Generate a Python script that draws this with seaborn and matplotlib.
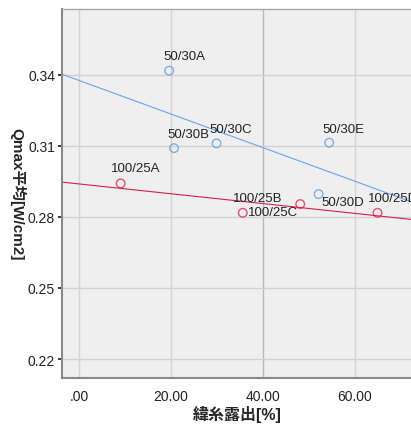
import matplotlib
matplotlib.use("Agg")
import matplotlib.pyplot as plt
import seaborn as sns
import pandas as pd

# values
names_50 = ["50/30A", "50/30B", "50/30C", "50/30D", "50/30E"]
x_50 = [19.6, 20.65, 29.9, 52.1, 54.4]
y_50 = [0.3417, 0.3090, 0.3110, 0.2896, 0.3113]

names_100 = ["100/25A", "100/25B", "100/25C", "100/25D"]
x_100 = [9.06, 35.6, 48.1, 64.9]
y_100 = [0.2941, 0.2817, 0.2854, 0.2817]

x_ticks = [0, 20, 40, 60]
x_ticklabels = [".00", "20.00", "40.00", "60.00"]
y_ticks = [0.22, 0.25, 0.28, 0.31, 0.34]
y_ticklabels = ["0.22", "0.25", "0.28", "0.31", "0.34"]

# label offsets in pixels (dx, dy)
label_offsets = {
    "50/30A": (-6, 9), "50/30B": (-7, 8), "50/30C": (-7, 8),
    "50/30D": (3, -14), "50/30E": (-7, 8),
    "100/25A": (-10, 9), "100/25B": (-10, 9),
    "100/25C": (-52, -14), "100/25D": (-10, 9),
}

df50 = pd.DataFrame({"name": names_50, "x": x_50, "y": y_50})
df100 = pd.DataFrame({"name": names_100, "x": x_100, "y": y_100})

sns.set_theme(style="ticks")
plt.rcParams["font.family"] = ["Liberation Sans", "Noto Sans CJK JP", "DejaVu Sans"]

fig = plt.figure(figsize=(4.11, 4.27), dpi=100)
ax = fig.add_axes([62 / 411, 48.5 / 427, 350 / 411, 368.2 / 427])
ax.set_facecolor("#efefef")
ax.set_xlim(-3.7, 72.4)
ax.set_ylim(0.2122, 0.3676)

blue = "#5f9ee0"
red = "#e02a55"

for d, col, lcol in [(df50, blue, "#6aa3e8"), (df100, red, "#d81e48")]:
    sns.regplot(data=d, x="x", y="y", ax=ax, ci=None, truncate=False,
                scatter_kws={"s": 38, "facecolors": "none", "edgecolors": col, "linewidths": 1.0},
                line_kws={"color": lcol, "linewidth": 0.8})

for d in (df50, df100):
    for _, r in d.iterrows():
        dx, dy = label_offsets[r["name"]]
        ax.annotate(r["name"], (r["x"], r["y"]), xytext=(dx, dy), textcoords="offset pixels",
                    ha="left", va="bottom", fontsize=9.5, color="#222222")

ax.set_xticks(x_ticks)
ax.set_xticklabels(x_ticklabels)
ax.set_yticks(y_ticks)
ax.set_yticklabels(y_ticklabels)
ax.tick_params(axis="x", length=0, labelsize=10, pad=8, colors="#222222")
ax.tick_params(axis="y", length=3, labelsize=10, pad=2, colors="#222222")

ax.grid(True, color="#d2d2d2", linewidth=1.0)
ax.get_xgridlines()[2].set_color("#b8b8b8")
ax.set_axisbelow(True)

ax.spines["right"].set_visible(False)
ax.spines["top"].set_color("#a8a8a8")
ax.spines["top"].set_linewidth(1.0)
for s in ("left", "bottom"):
    ax.spines[s].set_color("#888888")
    ax.spines[s].set_linewidth(1.5)

ax.set_xlabel("緯糸露出[%]", fontsize=11.5, fontweight="bold", labelpad=2)
ax.set_ylabel("Qmax平均[W/cm2]", fontsize=11, fontweight="bold", rotation=-90, labelpad=13)

fig.savefig("out.png", dpi=100)
